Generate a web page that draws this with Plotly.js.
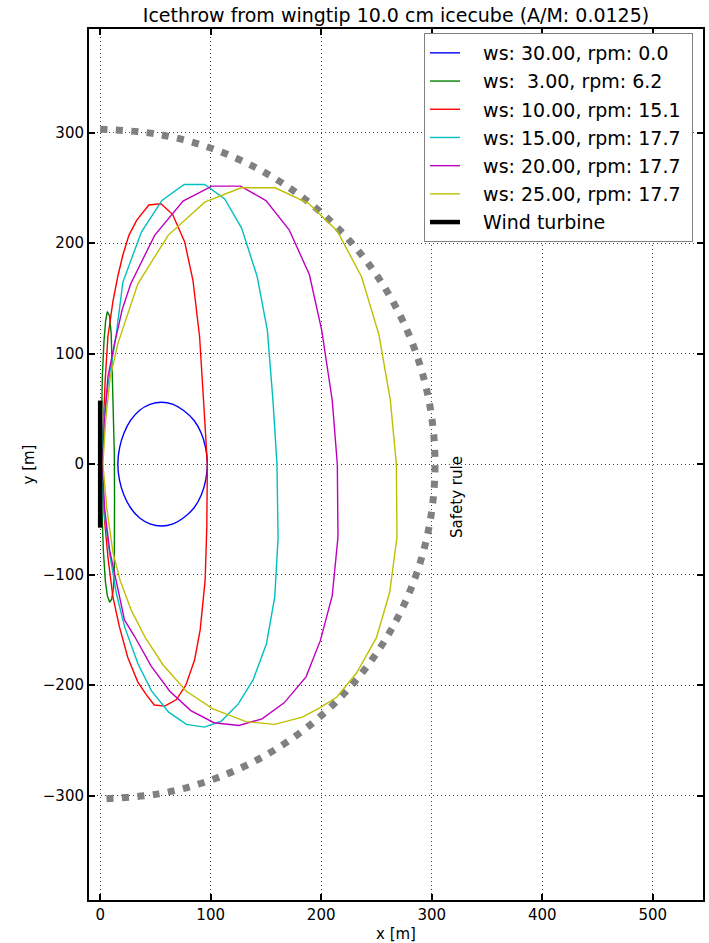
<!DOCTYPE html>
<html>
<head>
<meta charset="utf-8">
<script src="https://cdn.plot.ly/plotly-3.0.1.min.js"></script>
<style>
  html, body { margin: 0; padding: 0; background: #fff; }
  #chart { width: 709px; height: 943px; }
</style>
</head>
<body>
<div id="chart"></div>
<script>
// Landing positions of ice thrown from the wingtip, one closed loop per wind speed
const ws30_x = [97, 95.5, 91.5, 85, 75.5, 66, 55.5, 45, 35.5, 27.5, 21.5, 17.5, 16, 17.5, 21.5, 27.5, 35.5, 45, 55.5, 66, 75.5, 85, 91.5, 95.5, 97];
const ws30_y = [0, 14.5, 28, 39.5, 48.5, 54, 56, 54, 48.5, 39.5, 28, 14.5, 0, -14.5, -28, -39.5, -48.5, -54, -56, -54, -48.5, -39.5, -28, -14.5, 0];

const ws3_x = [0.5, 1, 2, 3.5, 5, 6.5, 8.5, 10, 11, 12, 12.8, 13, 13, 12.8, 12, 10.5, 8.6, 6.5, 4.7, 3, 1.5, 0.5];
const ws3_y = [0, 40, 80, 112, 130, 138, 134, 118, 85, 45, 10, -30, -70, -95, -112, -122, -125, -119, -106, -80, -40, 0];

const ws10_x = [1.5, 3, 4.5, 7, 11.5, 16, 20.5, 26, 33, 44, 55, 65.5, 76.5, 84, 90, 93.7, 97, 96.5, 95, 90.5, 85.5, 77.5, 69, 58.5, 49, 42, 34, 25, 17.5, 11.5, 7, 4, 1.5];
const ws10_y = [0, 40, 75, 115, 147, 170, 189, 207, 220.5, 234.5, 235.5, 226, 201, 166, 115, 55, 0, -57, -105, -150, -177, -200, -213, -219, -218, -209, -197, -175, -147.5, -120, -84, -51, 0];

const ws15_x = [1.5, 3, 8.5, 14.5, 20.5, 37.3, 55.9, 76, 94.6, 112.7, 128, 142, 151.3, 156.4, 160, 161, 158, 150.5, 138.5, 125, 109.7, 94.3, 78, 62, 46.3, 34.2, 22.2, 14.7, 8.6, 3, 1.5];
const ws15_y = [0, 40, 81, 117, 164.5, 210, 238.6, 253, 253, 240, 213.5, 170, 121, 57, 0, -67, -120, -162.5, -195, -217, -232.5, -238, -235.5, -224.4, -205, -180.6, -147.5, -117.3, -81, -40, 0];

const ws20_x = [2, 4, 7, 13, 20, 27.6, 49.3, 75, 101, 127, 150, 171, 189.3, 200.5, 210, 214.6, 215.2, 210, 199.3, 186.3, 166.5, 146.5, 125.5, 103, 82, 63, 46, 31.2, 22, 14.7, 8.6, 4, 2];
const ws20_y = [0, 40, 79, 109, 140, 163, 207, 238, 251.5, 251.5, 238.5, 212, 171.5, 121, 57.6, 0, -66, -119, -159.5, -192.5, -216, -230.5, -236.5, -234, -223, -205.5, -182.5, -156, -141, -108, -78, -40, 0];

const ws25_x = [2.5, 5, 9, 16, 34.2, 61.5, 94.6, 127.5, 158.3, 188.5, 214.5, 236.5, 252.3, 262.6, 268, 268.6, 262, 250, 232, 214, 198.6, 183, 158, 132, 102, 78, 56.8, 41, 28.2, 18, 11.6, 6, 2.5];
const ws25_y = [0, 40, 78, 109, 163.3, 207, 237, 250, 250, 236, 211, 169.5, 117, 57.6, 0, -66, -116, -157, -189, -211, -220.5, -229, -235.5, -233, -221.4, -205.5, -181.5, -157.3, -132.4, -105, -80, -40, 0];

// Safety distance boundary (downwind half)
const safety_x = [0, 52.6, 103.6, 151.5, 194.8, 232.1, 262.4, 284.7, 298.4, 303, 298.4, 284.7, 262.4, 232.1, 194.8, 151.5, 103.6, 52.6, 0];
const safety_y = [303, 298.4, 284.7, 262.4, 232.1, 194.8, 151.5, 103.6, 52.6, 0, -52.6, -103.6, -151.5, -194.8, -232.1, -262.4, -284.7, -298.4, -303];

// Rotor seen from above
const turbine_x = [0, 0];
const turbine_y = [-57.5, 57.5];

const seriesNames = [
  'ws: 30.00, rpm: 0.0',
  'ws: \u00a03.00, rpm: 6.2',
  'ws: 10.00, rpm: 15.1',
  'ws: 15.00, rpm: 17.7',
  'ws: 20.00, rpm: 17.7',
  'ws: 25.00, rpm: 17.7'
];
const seriesColors = ['#0000ff', '#008000', '#ff0000', '#00bfbf', '#bf00bf', '#bfbf00'];
const seriesX = [ws30_x, ws3_x, ws10_x, ws15_x, ws20_x, ws25_x];
const seriesY = [ws30_y, ws3_y, ws10_y, ws15_y, ws20_y, ws25_y];

const xTicks = [0, 100, 200, 300, 400, 500];
const yTicks = [-300, -200, -100, 0, 100, 200, 300];

const FONT = 'DejaVu Sans, sans-serif';
// padding around legend labels
const PADL = '\u00a0\u00a0\u00a0';
const PADR = '\u00a0';

const traces = [];
traces.push({
  x: safety_x, y: safety_y, type: 'scatter', mode: 'lines',
  line: { color: '#808080', width: 7, dash: '7px,8.5px', shape: 'spline', smoothing: 1 },
  showlegend: false, hoverinfo: 'skip'
});
seriesNames.forEach((name, i) => {
  traces.push({
    x: seriesX[i], y: seriesY[i], type: 'scatter', mode: 'lines', name: PADL + name + PADR,
    legendgroup: 'g' + i,
    line: { color: seriesColors[i], width: 1.4, shape: i === 0 ? 'spline' : 'linear' }
  });
});
traces.push({
  x: turbine_x, y: turbine_y, type: 'scatter', mode: 'lines', name: PADL + 'Wind turbine',
  legendgroup: 'turbine',
  line: { color: '#000000', width: 4.5 }
});

const axisCommon = {
  showline: true, linewidth: 2, linecolor: '#000', mirror: 'ticks',
  ticks: 'inside', ticklen: 6, tickwidth: 2, tickcolor: '#000',
  showgrid: true, gridcolor: 'rgba(0,0,0,0.75)', gridwidth: 1, griddash: '1px,3px',
  zeroline: false, tickfont: { family: FONT, size: 15, color: '#000' }
};

const layout = {
  width: 709, height: 943,
  margin: { l: 89, r: 6, t: 29, b: 43, pad: 0 },
  paper_bgcolor: '#fff', plot_bgcolor: '#fff',
  font: { family: FONT, color: '#000' },
  title: {
    text: 'Icethrow from wingtip 10.0 cm icecube (A/M: 0.0125)',
    font: { family: FONT, size: 19, color: '#000' },
    x: 0.5, xref: 'paper', y: 1 - 15 / 943, yref: 'container', yanchor: 'middle'
  },
  xaxis: Object.assign({}, axisCommon, {
    range: [-10.1, 545.5], tickvals: xTicks,
    title: { text: 'x [m]', font: { family: FONT, size: 15 }, standoff: 8 }
  }),
  yaxis: Object.assign({}, axisCommon, {
    range: [-394.4, 393.7], tickvals: yTicks,
    title: { text: 'y [m]', font: { family: FONT, size: 15 }, standoff: 5 }
  }),
  legend: {
    x: 0.9837, xanchor: 'right', y: 0.9954, yanchor: 'top',
    bgcolor: '#fff', bordercolor: '#808080', borderwidth: 1,
    font: { family: FONT, size: 19, color: '#000' },
    itemwidth: 30, traceorder: 'grouped', tracegroupgap: 0.5
  },
  annotations: [{
    x: 323.5, y: -30, xref: 'x', yref: 'y', text: 'Safety rule', textangle: -90,
    showarrow: false, font: { family: FONT, size: 15, color: '#000' }
  }],
  showlegend: true
};

Plotly.newPlot('chart', traces, layout, { staticPlot: true, displayModeBar: false });
</script>
</body>
</html>
